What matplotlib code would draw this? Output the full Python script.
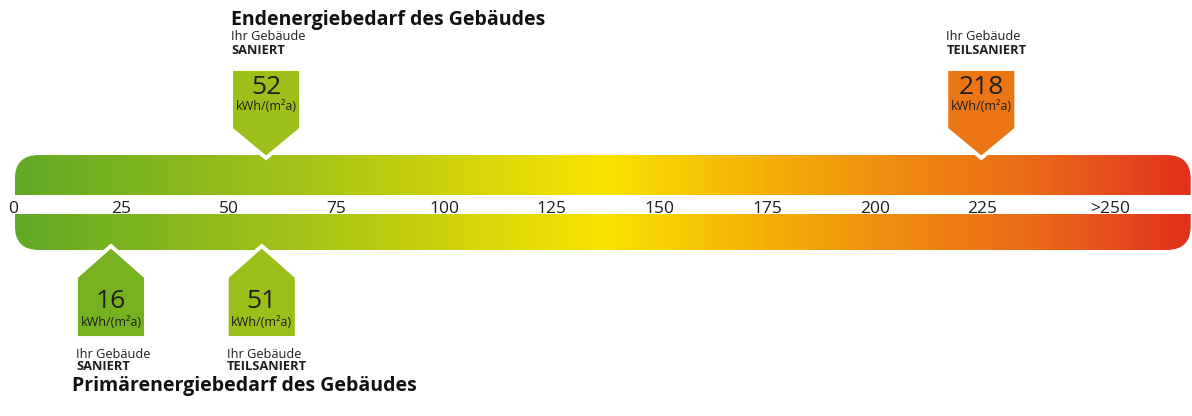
import numpy as np
import matplotlib
matplotlib.use('Agg')
from matplotlib import pyplot as plt
from matplotlib.colors import LinearSegmentedColormap
from matplotlib.patches import FancyBboxPatch, Polygon, Rectangle

plt.rcParams['font.family'] = ['Open Sans', 'DejaVu Sans']

# scale ticks (kWh/(m²a))
tick_values = [0, 25, 50, 75, 100, 125, 150, 175, 200, 225, 250]
tick_labels = ['0', '25', '50', '75', '100', '125', '150', '175', '200', '225', '>250']

# Endenergiebedarf (top markers)
end_values = [52, 218]
end_status = ['SANIERT', 'TEILSANIERT']

# Primärenergiebedarf (bottom markers)
prim_values = [16, 51]
prim_status = ['SANIERT', 'TEILSANIERT']

unit = 'kWh/(m\u00b2a)'

gradient_stops = [(0.0, '#62a925'), (0.25, '#a7c417'), (0.5, '#f9e300'),
                  (0.63, '#f5b307'), (0.75, '#f08b10'), (0.87, '#ea6919'),
                  (1.0, '#e3301e')]
cmap = LinearSegmentedColormap.from_list('energy', gradient_stops)

px_per_unit = 4.31          # horizontal pixels per kWh/(m²a)
x_min, x_max = -9.75, 266.9
bar_left, bar_right = -6.3, 266.6
label_shift = -6.7          # tick labels sit a bit left of the marker scale

fig = plt.figure(figsize=(11.92, 4.16), dpi=100)
ax = fig.add_axes([0, 0, 1, 1])
ax.set_xlim(x_min, x_max)
ax.set_ylim(416, 0)
ax.axis('off')

# gradient bar, clipped to a rounded box
box = FancyBboxPatch((bar_left, 155), bar_right - bar_left, 95,
                     boxstyle='round,pad=0,rounding_size=%f' % (24 / px_per_unit),
                     mutation_aspect=px_per_unit, facecolor='none', edgecolor='none')
ax.add_patch(box)
grad = np.linspace(0, 1, 600).reshape(1, -1)
im = ax.imshow(grad, cmap=cmap, aspect='auto', extent=[bar_left, bar_right, 250, 155],
               interpolation='bilinear', zorder=1)
im.set_clip_path(box)
ax.add_patch(Rectangle((x_min - 5, 195), x_max - x_min + 10, 19, facecolor='white',
                       edgecolor='none', zorder=2))

for i, (v, lab) in enumerate(zip(tick_values, tick_labels)):
    last = i == len(tick_values) - 1
    ax.text(v + label_shift, 213, lab, ha='left' if last else 'center', va='baseline',
            fontsize=12.5, color='#1e1e1e', zorder=3)

def color_at(v):
    return cmap((v - bar_left) / (bar_right - bar_left))

hw = 35 / px_per_unit
text_col = '#1e1e1e'

# top markers
for v, st in zip(end_values, end_status):
    pts = [(v - hw, 69), (v + hw, 69), (v + hw, 129), (v, 158), (v - hw, 129)]
    ax.add_patch(Polygon(pts, closed=True, facecolor=color_at(v), edgecolor='white',
                         linewidth=2.8, joinstyle='miter', zorder=4))
    ax.text(v, 87, str(v), ha='center', va='center', fontsize=19, color=text_col, zorder=5)
    ax.text(v, 107, unit, ha='center', va='center', fontsize=9, color=text_col, zorder=5)
    ax.text(v - hw, 37, 'Ihr Gebäude', ha='left', va='center', fontsize=9.2, color=text_col)
    ax.text(v - hw, 50, st, ha='left', va='center', fontsize=9.3, fontweight='bold',
            color=text_col)
ax.text(end_values[0] - hw, 20, 'Endenergiebedarf des Gebäudes', ha='left', va='center',
        fontsize=14, fontweight='bold', color='#111111')

# bottom markers
for v, st in zip(prim_values, prim_status):
    pts = [(v, 246), (v + hw, 277), (v + hw, 338), (v - hw, 338), (v - hw, 277)]
    ax.add_patch(Polygon(pts, closed=True, facecolor=color_at(v), edgecolor='white',
                         linewidth=2.8, joinstyle='miter', zorder=4))
    ax.text(v, 302, str(v), ha='center', va='center', fontsize=19, color=text_col, zorder=5)
    ax.text(v, 322, unit, ha='center', va='center', fontsize=9, color=text_col, zorder=5)
    ax.text(v - hw, 355, 'Ihr Gebäude', ha='left', va='center', fontsize=9.2, color=text_col)
    ax.text(v - hw, 367, st, ha='left', va='center', fontsize=9.3, fontweight='bold',
            color=text_col)
ax.text(prim_values[0] - hw - 1, 386, 'Primärenergiebedarf des Gebäudes', ha='left',
        va='center', fontsize=14, fontweight='bold', color='#111111')

fig.savefig('out.png', dpi=100)
